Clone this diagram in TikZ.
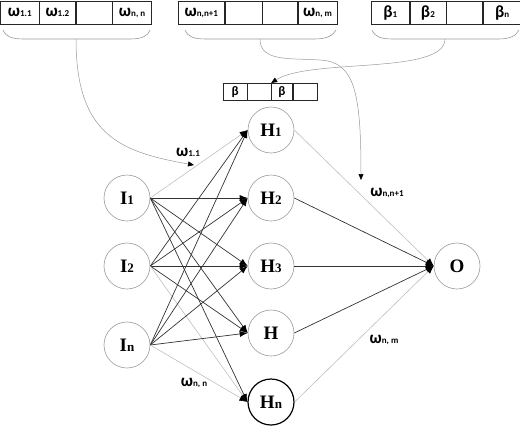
\documentclass[tikz,border=0pt]{standalone}
\usepackage{fontspec}
\setmainfont{Liberation Serif}
\newfontfamily\calfont{Carlito}
\usetikzlibrary{arrows.meta}

\newcommand{\lo}[1]{{\fontsize{9}{9}\selectfont #1}}% small index on the baseline
\newcommand{\nlo}[1]{{\fontsize{13}{13}\selectfont #1}}

\tikzset{
  neuron/.style={circle, draw=gray!80, line width=0.6pt, minimum size=46pt, inner sep=0pt,
                 font=\fontsize{19}{19}\selectfont\bfseries},
  cell/.style={draw=black!85, line width=0.6pt, anchor=north west, minimum height=23pt,
               inner sep=0pt, font=\calfont\bfseries\fontsize{17}{17}\selectfont},
  scell/.style={cell, minimum height=17pt, font=\calfont\bfseries\fontsize{13}{13}\selectfont},
  brace/.style={draw=gray!80, line width=0.6pt},
  flow/.style={draw=gray!80, line width=0.5pt, -{Triangle[length=6pt,width=5pt,color=black]}},
  wire/.style={draw=black!80, line width=0.7pt, -{Latex[length=8pt,width=6pt,color=black]}},
  thinwire/.style={wire, draw=gray!50, line width=0.6pt},
  wlbl/.style={font=\calfont\bfseries\fontsize{17}{17}\selectfont}
}

\begin{document}
\begin{tikzpicture}[x=1pt, y=-1pt]
\useasboundingbox (0,0) rectangle (520,426);

% weight arrays
\node[cell, minimum width=38pt] (w11) at (0.5,1) {ω\lo{1.1}};
\node[cell, minimum width=36pt] (w12) at (w11.north east) {ω\lo{1.2}};
\node[cell, minimum width=36pt] (w1e) at (w12.north east) {};
\node[cell, minimum width=39pt] (wnn) at (w1e.north east) {ω\lo{n, n}};

\node[cell, minimum width=46pt] (wnn1) at (178,1) {ω\lo{n,n+1}};
\node[cell, minimum width=37pt] (w2e) at (wnn1.north east) {};
\node[cell, minimum width=35pt] (w3e) at (w2e.north east) {};
\node[cell, minimum width=39pt] (wnm) at (w3e.north east) {ω\lo{n, m}};

\node[cell, minimum width=38pt] (b1) at (371,1) {β\lo{1}};
\node[cell, minimum width=36pt] (b2) at (b1.north east) {β\lo{2}};
\node[cell, minimum width=36pt] (be) at (b2.north east) {};
\node[cell, minimum width=38pt] (bn) at (be.north east) {β\lo{n}};

\node[scell, minimum width=23.5pt] (s1) at (223,83) {β};
\node[scell, minimum width=23.5pt] (s2) at (s1.north east) {};
\node[scell, minimum width=21pt] (s3) at (s2.north east) {β};
\node[scell, minimum width=24pt] (s4) at (s3.north east) {};

% braces
\draw[brace] (3,30) .. controls (6,37) and (12,39) .. (24,39) -- (130,39) .. controls (142,39) and (148,36) .. (150,30);
\draw[brace] (185,30) .. controls (188,37) and (194,39) .. (206,39) -- (314,39) .. controls (326,39) and (333,36) .. (336,30);
\draw[brace] (372,30) .. controls (375,37) and (381,39) .. (393,39) -- (498,39) .. controls (510,39) and (516,36) .. (519,30);
\coordinate (t1) at (76,39);
\coordinate (t2) at (260,39);
\coordinate (t3) at (445,39);
\coordinate (e1) at (194,165);
\coordinate (e2) at (361,180);

% neurons
\node[neuron] (I1) at (127,198) {I\nlo{1}};
\node[neuron] (I2) at (127,266) {I\nlo{2}};
\node[neuron] (In) at (127,345) {I\nlo{n}};
\node[neuron] (H1) at (271,130) {H\nlo{1}};
\node[neuron] (H2) at (271,198) {H\nlo{2}};
\node[neuron] (H3) at (271,266) {H\nlo{3}};
\node[neuron] (H4) at (271,333) {H};
\node[neuron, draw=black, line width=1.2pt] (Hn) at (271,402) {H\nlo{n}};
\node[neuron] (O) at (457,266) {O};

% input -> hidden
\foreach \i/\h/\s in {1/1/thinwire, 1/2/wire, 1/3/wire, 1/4/wire, 1/n/wire,
                      2/1/wire, 2/2/wire, 2/3/wire, 2/4/wire, 2/n/thinwire,
                      n/1/wire, n/2/wire, n/3/wire, n/4/wire, n/n/thinwire}
  \draw[\s] (I\i.east) -- (H\h.west);

% hidden -> output
\foreach \h/\s in {1/thinwire, 2/wire, 3/wire, 4/wire, n/thinwire}
  \draw[\s] (H\h.east) -- (O.west);

% weights fed in
\draw[flow] (t1) .. controls (76,135) and (120,152) .. (e1);
\draw[flow] (t2) .. controls (260,62) and (290,58) .. (320,60) .. controls (354,62) and (361,90) .. (e2);
\draw[flow] (t3) .. controls (445,75) and (310,58) .. (s3.north west);

\node[wlbl] (l11) at (188,152) {ω\lo{1.1}};
\node[wlbl] (lnn1) at (387,193) {ω\lo{n,n+1}};
\node[wlbl] (lnm) at (384,340) {ω\lo{n, m}};
\node[wlbl] (lnn) at (194,383) {ω\lo{n, n}};
\end{tikzpicture}
\end{document}
